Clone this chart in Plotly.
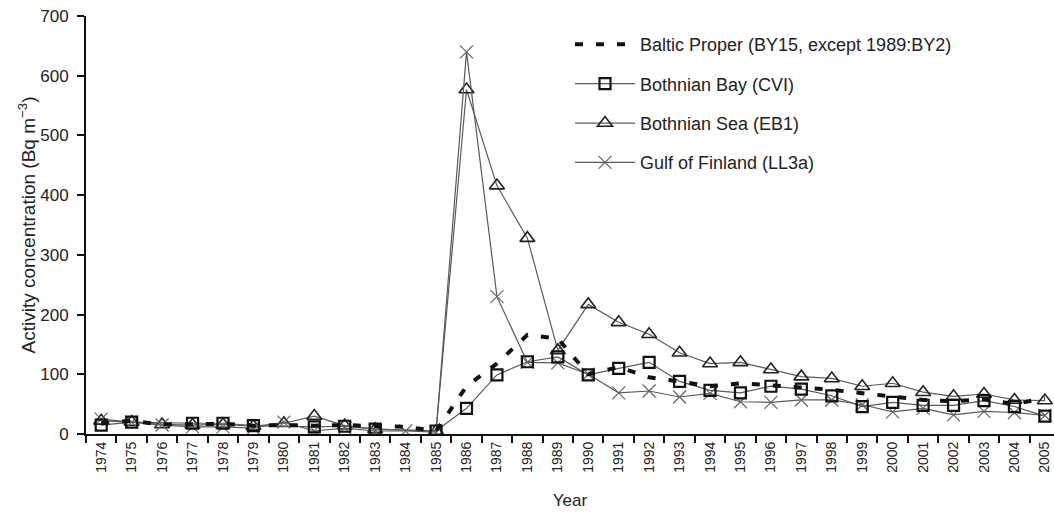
import plotly.graph_objects as go

years = [str(y) for y in range(1974, 2006)]

baltic_proper = [18, 22, 16, 17, 17, 14, 15, 14, 15, 13, 12, 5,
                 80, 118, 166, 160, 100, 112, 95, 88, 80, 85, 82, 78,
                 74, 68, 62, 57, 55, 58, 50, 60]

bothnian_bay = [15, 20, None, 18, 18, 14, None, 12, 13, 8, None, 5,
                43, 99, 121, 129, 99, 110, 120, 88, 73, 69, 80, 75,
                64, 46, 53, 48, 48, 56, 46, 30]

bothnian_sea = [22, 20, 16, 15, 16, 13, 18, 30, 14, 8, None, 5,
                577, 416, 328, 140, 217, 187, 167, 136, 118, 120, 108, 96,
                93, 80, 85, 70, 63, 67, 57, 56]

gulf_of_finland = [25, 20, 15, 12, 12, 10, 20, 5, 10, 5, 5, 3,
                   640, 230, 120, 119, 100, 69, 72, 62, 68, 54, 53, 57,
                   57, 49, 37, 43, 32, 38, 36, 31]

LINE_GREY = "#5a5a5a"
FONT = "Liberation Sans, Arial, sans-serif"

fig = go.Figure()

fig.add_trace(go.Scatter(
    x=years, y=bothnian_sea, name="Bothnian Sea (EB1)", mode="lines+markers",
    connectgaps=True, legendrank=3, legendgroup="c",
    line=dict(color=LINE_GREY, width=1.2),
    marker=dict(symbol="triangle-up-open", size=13, color="#222",
                line=dict(color="#222", width=1.6)),
))
fig.add_trace(go.Scatter(
    x=years, y=gulf_of_finland, name="Gulf of Finland (LL3a)", mode="lines+markers",
    connectgaps=True, legendrank=4, legendgroup="d",
    line=dict(color=LINE_GREY, width=1.2),
    marker=dict(symbol="x-thin-open", size=13, color="#666",
                line=dict(color="#666", width=1.2)),
))
fig.add_trace(go.Scatter(
    x=years, y=bothnian_bay, name="Bothnian Bay (CVI)", mode="lines+markers",
    connectgaps=True, legendrank=2, legendgroup="b",
    line=dict(color=LINE_GREY, width=1.2),
    marker=dict(symbol="square-open", size=11, color="#111",
                line=dict(color="#111", width=2.2)),
))
fig.add_trace(go.Scatter(
    x=years, y=baltic_proper, name="Baltic Proper (BY15, except 1989:BY2)",
    mode="lines", legendrank=1, legendgroup="a",
    line=dict(color="#111", width=4, dash="8px,13px"),
))

fig.update_layout(
    width=1054, height=512,
    margin=dict(l=86, r=0, t=16, b=78),
    paper_bgcolor="white", plot_bgcolor="white",
    font=dict(family=FONT, size=15, color="#222"),
    showlegend=True,
    legend=dict(
        x=0.50, y=0.976, xanchor="left", yanchor="top",
        bgcolor="rgba(0,0,0,0)", font=dict(size=18, color="#222"),
        tracegroupgap=13, itemwidth=60,
    ),
    xaxis=dict(
        type="category", categoryorder="array", categoryarray=years,
        range=[-0.5, 31.3], tickangle=-90, ticks="outside", tickson="boundaries",
        ticklen=7, tickwidth=1.5, tickcolor="#111", ticklabeloverflow="allow",
        showline=True, linecolor="#111", linewidth=2, showgrid=False,
        tickfont=dict(size=14), title=dict(text="Year", font=dict(size=17), standoff=22),
    ),
    yaxis=dict(
        range=[0, 700], dtick=100, ticks="outside", ticklen=7, tickwidth=1.5,
        tickcolor="#111", showline=True, linecolor="#111", linewidth=2,
        showgrid=False, zeroline=False, tickfont=dict(size=17),
        ticklabelstandoff=5,
        title=dict(text="Activity concentration (Bq m<sup>−3</sup>)",
                   font=dict(size=19), standoff=0),
    ),
)

fig.write_html(
    "out.html",
    config={"displayModeBar": False},
    post_script="document.body.style.margin='0px';document.body.style.overflow='hidden';",
)
